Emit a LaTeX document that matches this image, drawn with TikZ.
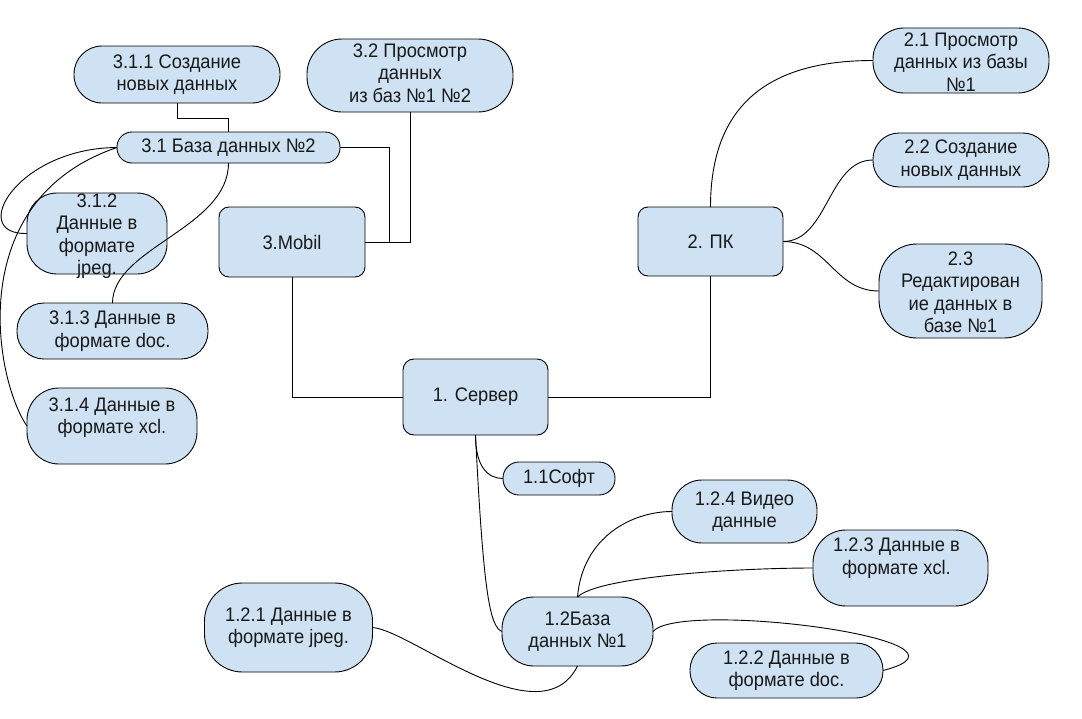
\documentclass[tikz,border=0pt]{standalone}
\usepackage{fontspec}
\setmainfont{Liberation Sans}
\definecolor{boxblue}{RGB}{207,226,243}
\definecolor{inkgray}{RGB}{25,25,25}
\begin{document}
\begin{tikzpicture}[x=1pt,y=-1pt,
  box/.style={draw=black, line width=0.9pt, fill=boxblue, inner sep=0pt, outer sep=0pt, rectangle},
  bx/.style n args={3}{box, minimum width=#1pt, minimum height=#2pt, rounded corners=#3pt},
  txt/.style={align=center, font=\fontsize{18.3}{21}\selectfont, text=inkgray, inner sep=0pt, yscale=1.07, transform shape},
  con/.style={draw=black, line width=0.9pt}]
\useasboundingbox[fill=white] (0,0) rectangle (1082,718);

% boxes
\node[bx={206}{57}{28}] (b311) at (177,74.5) {};
\node[bx={206}{73}{35}] (b32) at (410,75.5) {};
\node[bx={223}{31}{15}] (b31) at (228.5,147.5) {};
\node[bx={140}{81}{30}] (b312) at (97,233.5) {};
\node[bx={146}{70}{10}] (bmob) at (292,242) {};
\node[bx={191}{56}{27}] (b313) at (112.5,331) {};
\node[bx={170}{76}{32}] (b314) at (112,426) {};
\node[bx={145}{76}{11}] (bsrv) at (475.5,397) {};
\node[bx={145}{69}{10}] (bpk) at (710.5,241.5) {};
\node[bx={176}{65}{31}] (b21) at (961,60.5) {};
\node[bx={176}{54}{26}] (b22) at (961,160) {};
\node[bx={163}{94}{38}] (b23) at (960.5,291) {};
\node[bx={112}{33}{16}] (b11) at (559,478.5) {};
\node[bx={145}{63}{30}] (b124) at (744.5,511.5) {};
\node[bx={175}{76}{33}] (b123) at (900.5,568) {};
\node[bx={168}{89}{38}] (b121) at (288.5,627.5) {};
\node[bx={151}{69}{32}] (b12) at (577.5,631.5) {};
\node[bx={193}{55}{27}] (b122) at (786.5,670.5) {};

% connectors
\draw[con] (b311.south) -- ++(0,15) -| (b31.north);
\draw[con] (b31.east) -| ([xshift=24pt]bmob.east) -- (bmob.east);
\draw[con] (b32.south) |- (bmob.east);
\draw[con] (bmob.south) |- (bsrv.west);
\draw[con] (bpk.south) |- (bsrv.east);
\draw[con] (bpk.north) .. controls +(0,-110) and +(-95,0) .. (b21.west);
\draw[con] (bpk.east) .. controls +(45,0) and +(-45,0) .. (b22.west);
\draw[con] (bpk.east) .. controls +(45,0) and +(-45,0) .. (b23.west);
\draw[con] (bsrv.south) .. controls +(0,32) and +(-15,0) .. (b11.west);
\draw[con] (bsrv.south) .. controls +(8,160) and +(-12,-5) .. (b12.west);
\draw[con] (b12.north) .. controls +(5,-60) and +(-40,0) .. (b124.west);
\draw[con] (b12.north) .. controls +(20,-20) and +(-80,0) .. (b123.west);
\draw[con] (b12.east) .. controls +(27,-32) and +(117,-30) .. (b122.east);
\draw[con] (b12.south) .. controls +(-37,74) and +(38,2.5) .. (b121.east);
\draw[con] (b31.west) .. controls +(-100,0.5) and +(-60,1.5) .. (b312.west);
\draw[con] (b31.west) .. controls +(-155,52.5) and +(-32,-46) .. (b314.west);
\draw[con] (b31.south) .. controls +(0,65) and +(0,-55) .. (b313.north);

% texts
\node[txt] (t311) at (b311) {3.1.1 Создание\\новых данных};
\node[txt, yshift=2.5pt] (t32) at (b32) {3.2 Просмотр\\данных\\из баз №1 №2};
\node[txt] (t31) at (b31) {3.1 База данных №2};
\node[txt, yshift=-2.5pt] (t312) at (b312) {3.1.2\\Данные в\\формате\\jpeg.};
\node[txt] (tmob) at (bmob) {3.Mobil};
\node[txt] (t313) at (b313) {3.1.3 Данные в\\формате doc.};
\node[txt, yshift=8pt] (t314) at (b314) {3.1.4 Данные в\\формате xcl.};
\node[txt] (tsrv) at (bsrv) {1. Сервер};
\node[txt] (tpk) at (bpk) {2. ПК};
\node[txt, yshift=-1.5pt] (t21) at (b21) {2.1 Просмотр\\данных из базы\\№1};
\node[txt] (t22) at (b22) {2.2 Создание\\новых данных};
\node[txt, yshift=-1pt] (t23) at (b23) {2.3\\Редактирован\\ие данных в\\базе №1};
\node[txt] (t11) at (b11) {1.1Софт};
\node[txt] (t124) at (b124) {1.2.4 Видео\\данные};
\node[txt, xshift=-4pt, yshift=9pt] (t123) at (b123) {1.2.3 Данные в\\формате xcl.};
\node[txt] (t121) at (b121) {1.2.1 Данные в\\формате jpeg.};
\node[txt] (t12) at (b12) {1.2База\\данных №1};
\node[txt] (t122) at (b122) {1.2.2 Данные в\\формате doc.};
\end{tikzpicture}
\end{document}
